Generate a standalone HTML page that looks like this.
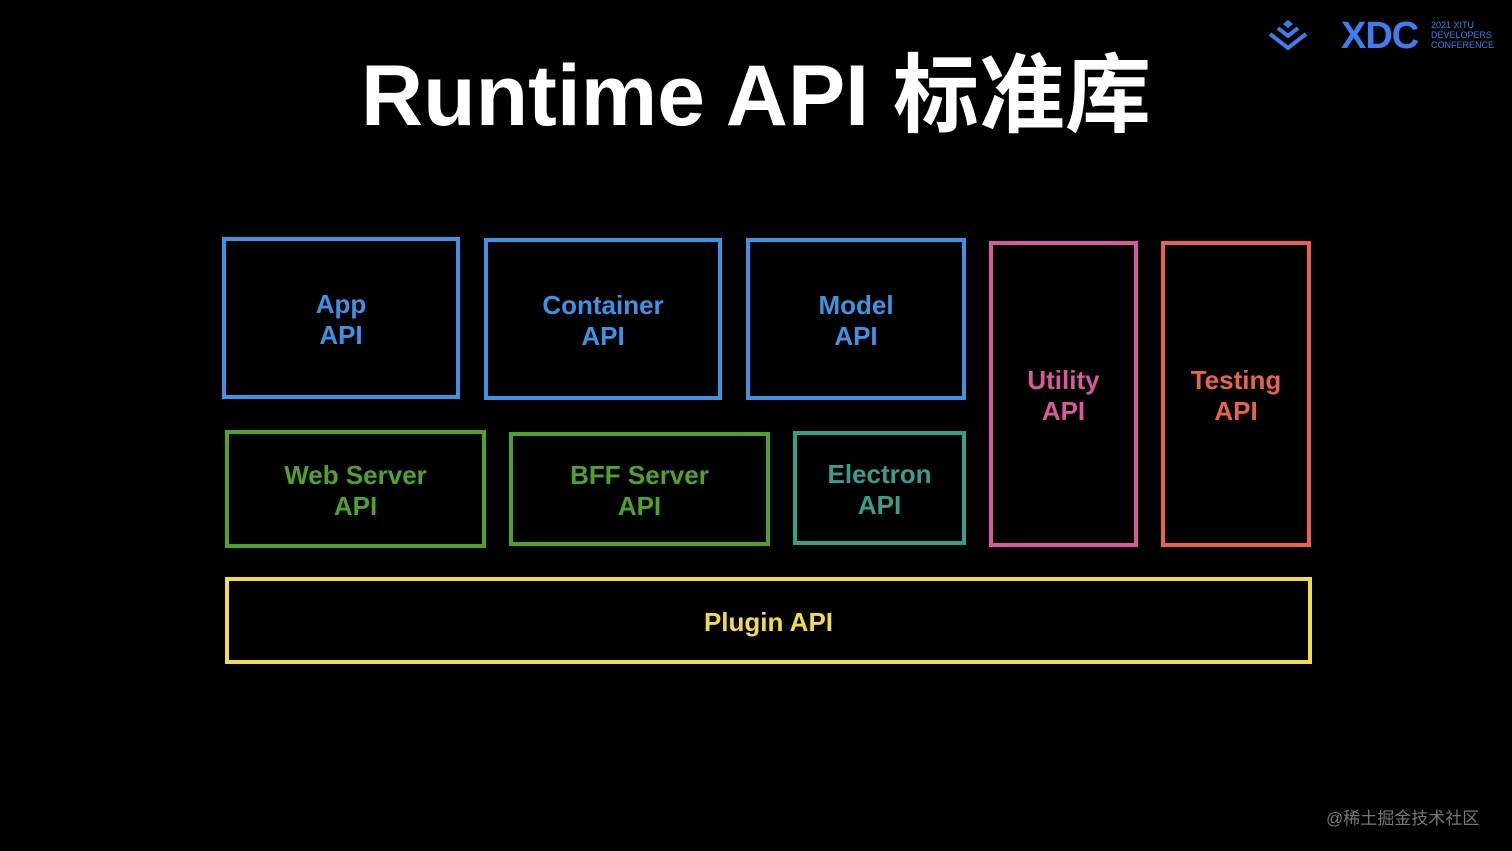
<!DOCTYPE html>
<html><head><meta charset="utf-8"><style>
body{margin:0;width:1512px;height:851px;background:#000;position:relative;overflow:hidden;font-family:"Liberation Sans","Noto Sans CJK SC",sans-serif}
.b{position:absolute;box-sizing:border-box;border:4px solid;display:flex;align-items:center;justify-content:center;text-align:center;font-weight:bold;font-size:26px;line-height:31px;padding-top:4px}
.t{position:absolute;left:0;width:1512px;text-align:center;top:46px;color:#fff;font-weight:bold;font-size:86px;line-height:100px}
</style></head><body>
<div class="t">Runtime API 标准库</div>
<svg style="position:absolute;left:1266px;top:18px" width="46" height="34" viewBox="0 0 46 34">
<path d="M22 2 L27 6 L22 10 L17 6Z" fill="#3d7ef0"/>
<path d="M12 10 L22 18 L32 10" stroke="#3d7ef0" stroke-width="4" fill="none"/>
<path d="M4 16 L22 30 L40 16" stroke="#3d7ef0" stroke-width="4" fill="none"/>
</svg>
<div style="position:absolute;left:1341px;top:15px;color:#3d7ef0;font-weight:bold;font-size:38px;line-height:42px;letter-spacing:-1px">XDC</div>
<div style="position:absolute;left:1431px;top:20px;color:#3d7ef0;font-size:9px;line-height:10px">2021 XITU<br>DEVELOPERS<br>CONFERENCE</div>
<div class="b" style="left:222px;top:237px;width:238px;height:162px;border-color:#3d93e6;color:#3d93e6">App<br>API</div>
<div class="b" style="left:484px;top:238px;width:238px;height:162px;border-color:#3d93e6;color:#3d93e6">Container<br>API</div>
<div class="b" style="left:746px;top:238px;width:220px;height:162px;border-color:#3d93e6;color:#3d93e6">Model<br>API</div>
<div class="b" style="left:989px;top:241px;width:149px;height:306px;border-color:#d75a9c;color:#d75a9c">Utility<br>API</div>
<div class="b" style="left:1161px;top:241px;width:150px;height:306px;border-color:#e9634c;color:#e9634c">Testing<br>API</div>
<div class="b" style="left:225px;top:430px;width:261px;height:118px;border-color:#4fa22e;color:#4fa22e">Web Server<br>API</div>
<div class="b" style="left:509px;top:432px;width:261px;height:114px;border-color:#4fa22e;color:#4fa22e">BFF Server<br>API</div>
<div class="b" style="left:793px;top:431px;width:173px;height:114px;border-color:#3a9e8c;color:#3a9e8c">Electron<br>API</div>
<div class="b" style="left:225px;top:577px;width:1087px;height:87px;border-color:#f2dc4a;color:#f2dc4a">Plugin API</div>
<div style="position:absolute;left:1326px;top:804px;color:#777;font-size:17px">@稀土掘金技术社区</div>
</body></html>
